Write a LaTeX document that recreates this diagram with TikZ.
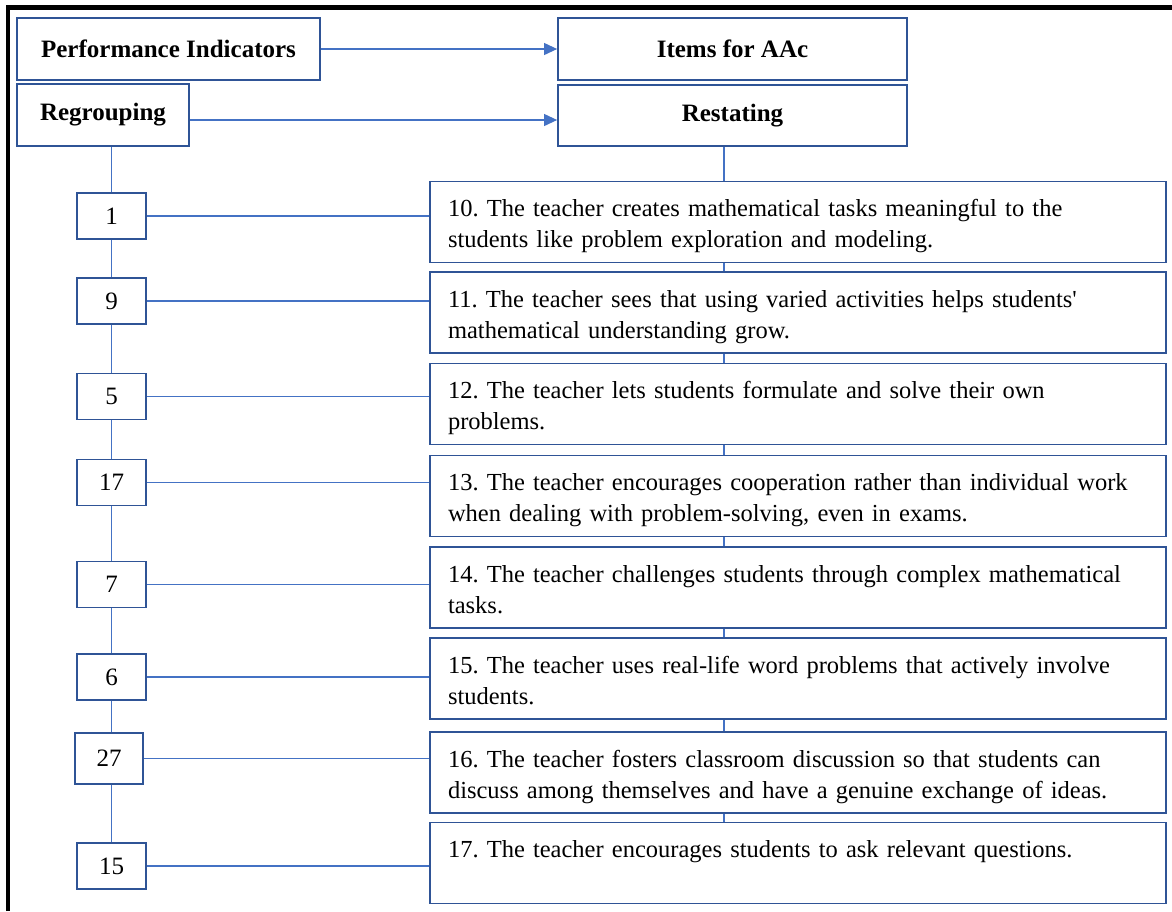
\documentclass[tikz,border=0pt]{standalone}
\usepackage{fontspec}
\setmainfont{Liberation Serif}
\usetikzlibrary{arrows.meta}
\definecolor{boxblue}{HTML}{2F5496}
\definecolor{lineblue}{HTML}{4472C4}
\begin{document}
\begin{tikzpicture}[x=1pt,y=-1pt,
  font=\fontsize{25}{30}\selectfont\frenchspacing,
  hdr/.style={draw=boxblue,line width=1.8pt,rectangle,inner sep=0pt,font=\fontsize{25}{30}\selectfont\bfseries},
  numbox/.style={draw=boxblue,line width=1.8pt,rectangle,inner sep=0pt,minimum width=69,minimum height=46},
  itembox/.style={draw=boxblue,line width=1.8pt,rectangle,inner sep=0pt,minimum width=736,minimum height=81,text width=700,align=left,
    font=\fontsize{24.5}{31}\selectfont\frenchspacing,
    execute at begin node={\rule{0pt}{28pt}},execute at end node={\rule[-8pt]{0pt}{8pt}}},
  link/.style={draw=lineblue,line width=1.1pt},
  arrowlink/.style={link,-{Triangle[length=13pt,width=12pt]}}]
\useasboundingbox (0,0) rectangle (1172,911);
\draw[line width=4.5pt] (8,911) -- (8,7.5) -- (1172,7.5);
% header row
\node[hdr,minimum width=303,minimum height=62] (perf) at (168.5,49) {Performance Indicators};
\node[hdr,minimum width=349,minimum height=62] (items) at (732.5,49) {Items for AAc};
\node[hdr,minimum width=172,minimum height=62] (regroup) at (103,115) {Regrouping};
\node[hdr,minimum width=349,minimum height=61] (restate) at (732.5,115.5) {Restating};
\draw[arrowlink] (perf.east) -- (items.west);
\draw[arrowlink] ([yshift=-5pt]regroup.east) -- ([yshift=-5pt]regroup.east -| restate.west);
% regrouped numbers
\node[numbox] (n1) at (111.5,216) {1};
\node[numbox] (n9) at (111.5,301) {9};
\node[numbox] (n5) at (111.5,396.5) {5};
\node[numbox] (n17) at (111.5,482.5) {17};
\node[numbox] (n7) at (111.5,584.5) {7};
\node[numbox] (n6) at (111.5,677) {6};
\node[numbox,minimum width=68,minimum height=51] (n27) at (109,758.5) {27};
\node[numbox] (n15) at (111.5,866) {15};
% restated items
\node[itembox] (t10) at (798,222) {10. The teacher creates mathematical tasks meaningful to the\\students like problem exploration and modeling.};
\node[itembox] (t11) at (798,312.5) {11. The teacher sees that using varied activities helps students\textquotesingle\\mathematical understanding grow.};
\node[itembox] (t12) at (798,404) {12. The teacher lets students formulate and solve their own\\problems.};
\node[itembox] (t13) at (798,496) {13. The teacher encourages cooperation rather than individual work\\when dealing with problem-solving, even in exams.};
\node[itembox] (t14) at (798,587.5) {14. The teacher challenges students through complex mathematical\\tasks.};
\node[itembox] (t15) at (798,678.5) {15. The teacher uses real-life word problems that actively involve\\students.};
\node[itembox] (t16) at (798,772.5) {16. The teacher fosters classroom discussion so that students can\\discuss among themselves and have a genuine exchange of ideas.};
\node[itembox] (t17) at (798,863) {17. The teacher encourages students to ask relevant questions.\\\mbox{}};
% left spine
\coordinate (lspine) at (111.5,0);
\coordinate (rspine) at (724,0);
\draw[link] (lspine |- regroup.south) -- (n1.north);
\foreach \a/\b in {n1/n9,n9/n5,n5/n17,n17/n7,n7/n6,n6/n27,n27/n15}
  \draw[link] (lspine |- \a.south) -- (lspine |- \b.north);
% right spine
\draw[link] (rspine |- restate.south) -- (rspine |- t10.north);
\foreach \a/\b in {t10/t11,t11/t12,t12/t13,t13/t14,t14/t15,t15/t16,t16/t17}
  \draw[link] (rspine |- \a.south) -- (rspine |- \b.north);
% number to item
\foreach \a/\b in {n1/t10,n9/t11,n5/t12,n17/t13,n7/t14,n6/t15,n27/t16,n15/t17}
  \draw[link] (\a.east) -- (\a.east -| \b.west);
\end{tikzpicture}
\end{document}
